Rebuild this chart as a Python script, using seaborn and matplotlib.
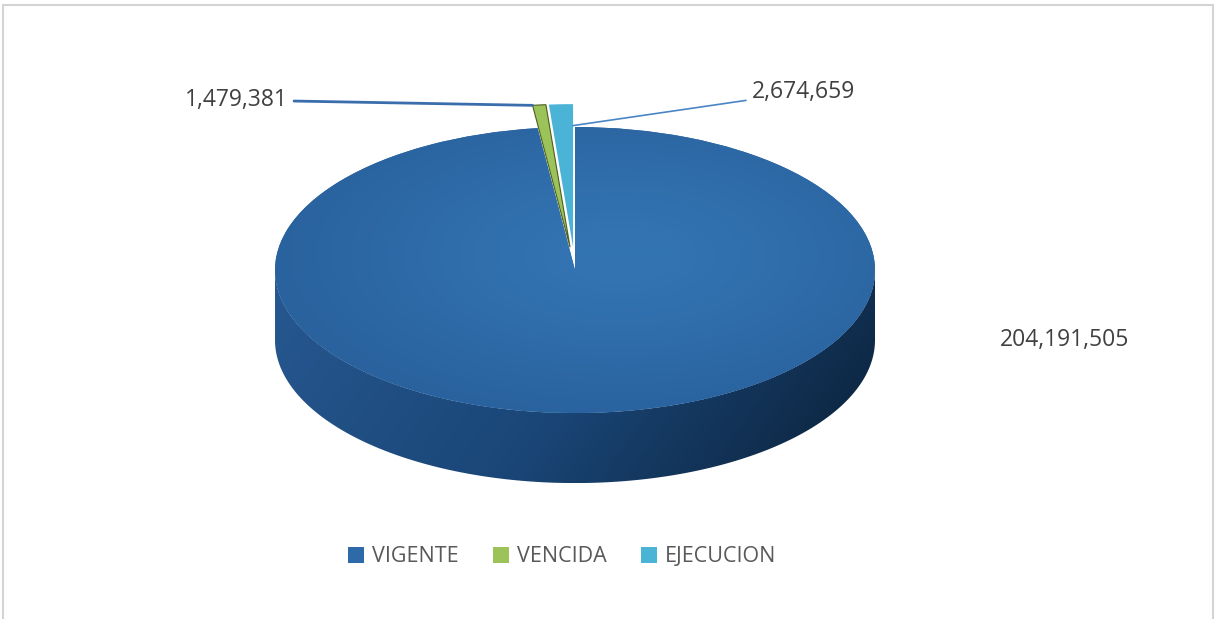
import numpy as np
import matplotlib
matplotlib.use('Agg')
import matplotlib.pyplot as plt
from matplotlib.path import Path
from matplotlib.patches import Rectangle, Patch
from matplotlib.colors import LinearSegmentedColormap
import seaborn as sns

# -----------------------------
# Data
# -----------------------------
categories = ['VIGENTE', 'VENCIDA', 'EJECUCION']
values = [204191505, 1479381, 2674659]
value_labels = ['204,191,505', '1,479,381', '2,674,659']
colors = ['#2e6aa7', '#9bc35a', '#4bb3d6']

sns.set_theme(style='white')
plt.rcParams['font.family'] = ['Open Sans', 'DejaVu Sans']

W, H = 1219, 619
fig = plt.figure(figsize=(W / 100, H / 100), dpi=100)
ax = fig.add_axes([0, 0, 1, 1])

# ellipse of the pie top, in pixels: centre and radii
cx, cy, rx, ry = 575, 270, 300, 143
depth = 0.49  # thickness of the 3D slab, in pie radii (vertical)

wedges, _ = ax.pie(values, colors=colors, startangle=90, counterclock=False,
                   explode=[0, 0.16, 0.16], wedgeprops=dict(linewidth=0))

# squash the circle into an ellipse
ax.set_aspect('auto')
ax.axis('off')

# -----------------------------
# Side wall of the slab
# -----------------------------
t = np.linspace(np.pi, 2 * np.pi, 200)
side_xy = np.concatenate([
    np.column_stack([np.cos(t), np.sin(t)]),
    np.column_stack([np.cos(t[::-1]), np.sin(t[::-1]) - depth]),
])
side_path = Path(side_xy, closed=True)

side_cmap = LinearSegmentedColormap.from_list(
    'side', ['#275891', '#1a4677', '#0b2139'])
gx, gy = np.meshgrid(np.linspace(0, 1, 300), np.linspace(0, 1, 80))
side_img = ax.imshow(0.8 * gx + 0.2 * gy, cmap=side_cmap, aspect='auto',
                     extent=(-1, 1, -1 - depth, 0), origin='upper',
                     zorder=0.5, interpolation='bilinear')
side_img.set_clip_path(side_path, transform=ax.transData)

# soft shading of the top face
top_cmap = LinearSegmentedColormap.from_list('top', ['#3373b2', '#28609b'])
tx, ty = np.meshgrid(np.linspace(-1, 1, 300), np.linspace(-1, 1, 200))
rr = np.sqrt((tx - 0.15) ** 2 + (ty + 0.1) ** 2)
top_img = ax.imshow(rr, cmap=top_cmap, aspect='auto', extent=(-1, 1, -1, 1),
                    zorder=1.5, interpolation='bilinear', vmin=0.2, vmax=1.3)
top_img.set_clip_path(wedges[0])

for w in wedges[1:]:
    w.set_zorder(3)
wedges[1].set_edgecolor('#4d5e1f')
wedges[1].set_linewidth(0.8)
ax.set_xlim(-cx / rx, (W - cx) / rx)
ax.set_ylim((cy - H) / ry, cy / ry)


def px(x, y):
    return (x - cx) / rx, (cy - y) / ry


def edge_point(w, frac=1.0, which='mid'):
    ang = {'mid': (w.theta1 + w.theta2) / 2, 'lo': w.theta1, 'hi': w.theta2}[which]
    a = np.deg2rad(ang)
    return (w.center[0] + frac * w.r * np.cos(a),
            w.center[1] + frac * w.r * np.sin(a))


# -----------------------------
# Value labels
# -----------------------------
ax.text(*px(1065, 340), value_labels[0], ha='center', va='center',
        fontsize=16.5, color='#404040')
ax.annotate(value_labels[1], xy=edge_point(wedges[1], 1.0, 'hi'),
            xytext=px(288, 100), ha='right', va='center', fontsize=16.5,
            color='#404040',
            arrowprops=dict(arrowstyle='-', color='#3a6dab', lw=2,
                            shrinkA=2, shrinkB=0))
ax.annotate(value_labels[2], xy=edge_point(wedges[2], 0.85, 'lo'),
            xytext=px(752, 92), ha='left', va='center', fontsize=16.5,
            color='#404040',
            arrowprops=dict(arrowstyle='-', color='#4a86c5', lw=1.2,
                            shrinkA=2, shrinkB=0))

# -----------------------------
# Legend and frame
# -----------------------------
handles = [Patch(facecolor=c, edgecolor='none') for c in colors]
fig.legend(handles, categories, loc='center', ncol=3, frameon=False,
           bbox_to_anchor=(562 / W, 1 - 557 / H), fontsize=15.5,
           handlelength=0.75, handleheight=0.75, handletextpad=0.35,
           columnspacing=1.6, labelcolor='#595959')

fig.patches.append(Rectangle((3 / W, -0.01), (1213 - 3) / W, (H - 5) / H + 0.01,
                             transform=fig.transFigure, fill=False,
                             edgecolor='#d4d4d4', lw=1.5))

plt.savefig('out.png', dpi=100)
